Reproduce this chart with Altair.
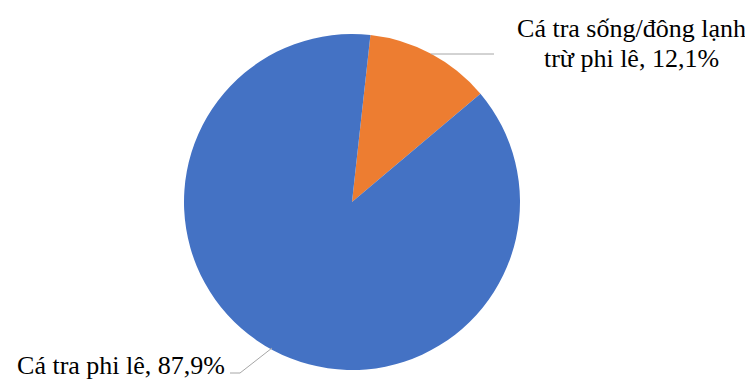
import math
import altair as alt
import pandas as pd

categories = ["Cá tra sống/đông lạnh trừ phi lê", "Cá tra phi lê"]
shares = [12.1, 87.9]
label_lines = [["Cá tra sống/đông lạnh", "trừ phi lê, 12,1%"], ["Cá tra phi lê, 87,9%"]]
colors = ["#ED7D31", "#4472C4"]

df = pd.DataFrame({"category": categories, "share": shares, "order": [0, 1]})
start = math.radians(6.3)

pie = alt.Chart(df).mark_arc(outerRadius=168).encode(
    theta=alt.Theta("share:Q", stack=True,
                    scale=alt.Scale(domain=[0, 100], range=[start, start + 2 * math.pi])),
    color=alt.Color("category:N", scale=alt.Scale(domain=categories, range=colors), legend=None),
    order=alt.Order("order:Q"),
    x=alt.value(344),
    y=alt.value(194),
)

FONT = "Liberation Serif"

lab1 = alt.Chart(pd.DataFrame({"t": [label_lines[0]]})).mark_text(
    font=FONT, fontSize=26, color="#000000", align="center", baseline="alphabetic", lineHeight=30
).encode(text="t", x=alt.value(623.5), y=alt.value(28.7))

lab2 = alt.Chart(pd.DataFrame({"t": label_lines[1]})).mark_text(
    font=FONT, fontSize=26, color="#000000", align="right", baseline="alphabetic"
).encode(text="t", x=alt.value(217), y=alt.value(366.3))

line_color = "#A6A6A6"
one = pd.DataFrame({"k": [0]})
r1 = alt.Chart(one).mark_rule(color=line_color, strokeWidth=1).encode(
    x=alt.value(423), x2=alt.value(486), y=alt.value(46), y2=alt.value(46))
r2 = alt.Chart(one).mark_rule(color=line_color, strokeWidth=1).encode(
    x=alt.value(222), x2=alt.value(232), y=alt.value(365), y2=alt.value(365))
r3 = alt.Chart(one).mark_rule(color=line_color, strokeWidth=1).encode(
    x=alt.value(232), x2=alt.value(264), y=alt.value(365), y2=alt.value(340))

chart = alt.layer(pie, r1, r2, r3, lab1, lab2).properties(
    width=737, height=373, padding=0,
    autosize=alt.AutoSizeParams(type="none"),
).configure_view(stroke=None)

chart.save("out.html", embed_options={"renderer": "svg", "actions": False})
